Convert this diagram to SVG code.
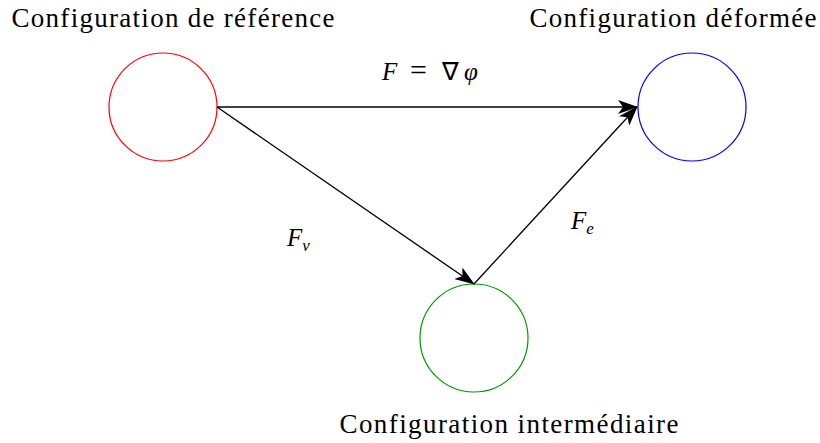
<svg xmlns="http://www.w3.org/2000/svg" width="820" height="443" viewBox="0 0 820 443">
<style>
.node circle{fill:none;stroke-width:1.2}
.edge{stroke:#000;stroke-width:1.3;fill:none;marker-end:url(#arr)}
</style>
<defs>
<marker id="arr" viewBox="0 0 20 14" refX="19" refY="7" markerWidth="20" markerHeight="14" markerUnits="userSpaceOnUse" orient="auto">
<path d="M0,0 L20,7 L0,14 L5,7 Z" fill="#000"/>
</marker>
</defs>
<rect width="820" height="443" fill="#fff"/>
<g id="ref" class="node">
<circle cx="163" cy="107" r="54" stroke="#ff0000"/>
<text x="173" y="27" text-anchor="middle" font-family="Liberation Serif, serif" font-size="27" textLength="323">Configuration de référence</text>
</g>
<g id="def" class="node">
<circle cx="692" cy="107" r="54" stroke="#0000ff"/>
<text x="673" y="27" text-anchor="middle" font-family="Liberation Serif, serif" font-size="27" textLength="287">Configuration déformée</text>
</g>
<g id="int" class="node">
<circle cx="474" cy="338" r="54" stroke="#009900"/>
<text x="509" y="433" text-anchor="middle" font-family="Liberation Serif, serif" font-size="27" textLength="339">Configuration intermédiaire</text>
</g>
<g id="connectors" font-family="Liberation Serif, serif" font-size="25">
<line class="edge" x1="217" y1="107" x2="637" y2="107"/>
<line class="edge" x1="217" y1="107" x2="474" y2="284"/>
<line class="edge" x1="474" y1="284" x2="637" y2="107"/>
<text y="80"><tspan font-style="italic" x="382">F</tspan><tspan x="410" font-size="30">=</tspan><tspan x="442">∇</tspan><tspan font-style="italic" x="464">φ</tspan></text>
<text x="287" y="246"><tspan font-style="italic">F</tspan><tspan font-style="italic" font-size="17" dy="5">v</tspan></text>
<text x="571" y="229"><tspan font-style="italic">F</tspan><tspan font-style="italic" font-size="17" dy="5">e</tspan></text>
</g>
</svg>
